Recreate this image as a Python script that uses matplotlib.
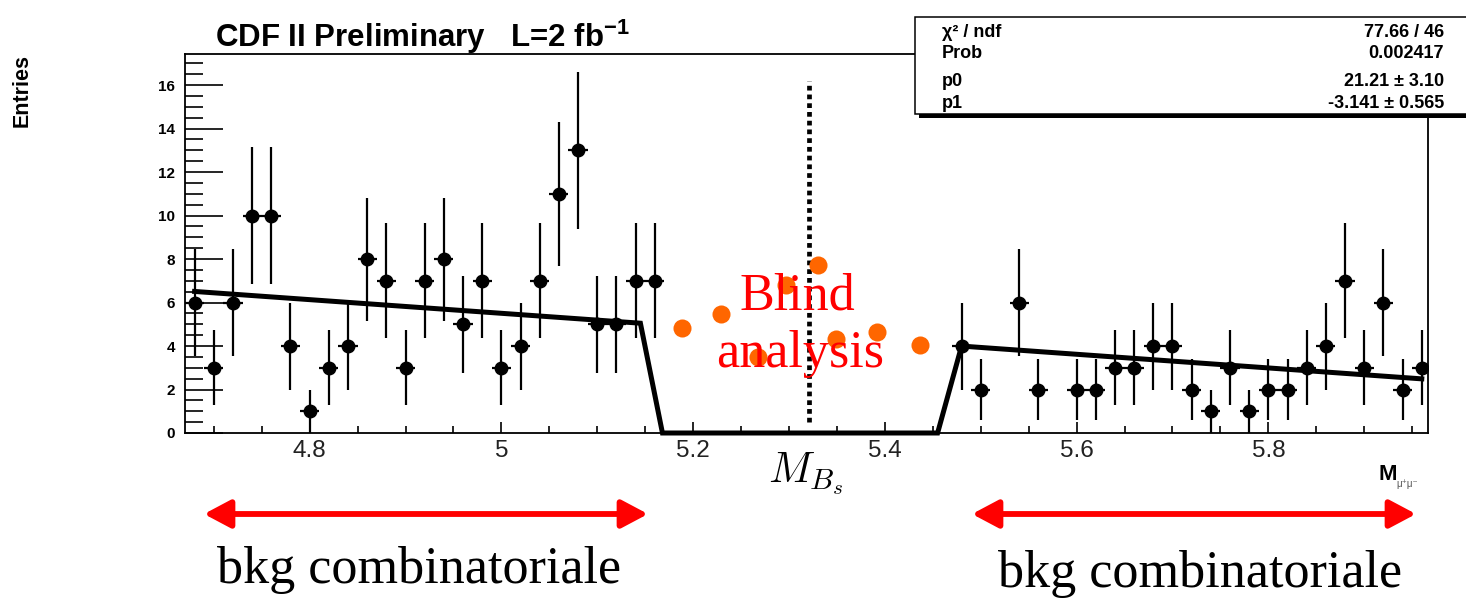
import numpy as np
import matplotlib
matplotlib.use("Agg")
import matplotlib.pyplot as plt
from matplotlib.patches import Rectangle, FancyArrowPatch, ArrowStyle
from matplotlib.ticker import MultipleLocator, FixedLocator, FixedFormatter

# ---------------- data ----------------
bin_width = 0.02
counts_left = [6, 3, 6, 10, 10, 4, 1, 3, 4, 8, 7, 3, 7, 8, 5, 7, 3, 4, 7, 11, 13, 5, 5, 7, 7]   # 4.68 .. 5.16
counts_right = [4, 2, 0, 6, 2, 0, 2, 2, 3, 3, 4, 4, 2, 1, 3, 1, 2, 2, 3, 4, 7, 3, 6, 2, 3]    # 5.48 .. 5.96
left_first_center = 4.68
right_first_center = 5.48

# fit: p0 + p1*x outside blind window
p0 = 21.21
p1 = -3.141
blind_lo, blind_hi = 5.16, 5.46
fit_nodes = [4.68, 5.145, 5.168, 5.455, 5.48, 5.96]

# hand-placed "blind" dots
blind_x = [5.188, 5.229, 5.268, 5.297, 5.330, 5.349, 5.392, 5.437]
blind_y = [4.81, 5.47, 3.48, 6.80, 7.72, 4.32, 4.63, 4.05]

signal_mass = 5.321
signal_line_range = (0.5, 16.2)

x_ticks = [4.8, 5.0, 5.2, 5.4, 5.6, 5.8]
x_ticklabels = ["4.8", "5", "5.2", "5.4", "5.6", "5.8"]
y_ticks = [0, 2, 4, 6, 8, 10, 12, 14, 16]

stats_labels = ["\u03c7\u00b2 / ndf", "Prob", "p0", "p1"]
stats_values = ["77.66 / 46", "0.002417", "21.21 \u00b1 3.10", "-3.141 \u00b1 0.565"]

# ---------------- setup ----------------
plt.rcParams["mathtext.fontset"] = "custom"
plt.rcParams["mathtext.rm"] = "Liberation Sans:bold"
plt.rcParams["mathtext.it"] = "Liberation Sans:bold"
plt.rcParams["mathtext.bf"] = "Liberation Sans:bold"

W, H = 1466, 599
def fx(x):
    return x / W
def fy(y):
    return 1 - y / H

fig = plt.figure(figsize=(W / 100, H / 100), dpi=100)
ax = fig.add_axes([fx(185), fy(433), fx(1428) - fx(185), fy(54) - fy(433)])

xs = np.concatenate([left_first_center + bin_width * np.arange(len(counts_left)),
                     right_first_center + bin_width * np.arange(len(counts_right))])
ns = np.array(counts_left + counts_right, dtype=float)
m = ns > 0
ax.errorbar(xs[m], ns[m], yerr=np.sqrt(ns[m]), xerr=bin_width / 2, fmt="o",
            color="black", ms=9, elinewidth=1.6, capsize=0, zorder=3)

nodes = np.array(fit_nodes)
fit_vals = np.where((nodes > blind_lo) & (nodes < blind_hi), 0.0, p0 + p1 * nodes)
ax.plot(nodes, fit_vals, color="black", lw=3.6, solid_joinstyle="miter",
        clip_on=False, zorder=4)

ax.vlines(signal_mass, *signal_line_range, color="black", lw=3.4,
          linestyles=[(0, (1.0, 0.85))], zorder=5)

ax.plot(blind_x, blind_y, "o", color="#FF6600", ms=13, mec="none", zorder=6)

ax.set_xlim(4.67, 5.9665)
ax.set_ylim(0, 17.43)

ax.xaxis.set_major_locator(FixedLocator(x_ticks))
ax.xaxis.set_major_formatter(FixedFormatter(x_ticklabels))
ax.xaxis.set_minor_locator(MultipleLocator(0.05))
ax.yaxis.set_major_locator(FixedLocator(y_ticks))
ax.yaxis.set_minor_locator(MultipleLocator(0.5))

ax.tick_params(axis="x", which="major", direction="in", length=8, width=1.2,
               labelsize=17.5, pad=5, labelcolor="#222222")
ax.tick_params(axis="x", which="minor", direction="in", length=5, width=1.2)
ax.tick_params(axis="y", which="major", direction="in", length=27, width=1.2,
               labelsize=11, pad=7)
ax.tick_params(axis="y", which="minor", direction="in", length=13, width=1.2)
ax.tick_params(top=False, right=False, which="both")
for lab in ax.get_yticklabels():
    lab.set_fontweight("bold")
    lab.set_family("Liberation Sans")
for lab in ax.get_xticklabels():
    lab.set_family("Liberation Sans")
for sp in ax.spines.values():
    sp.set_linewidth(1.3)

# ---------------- texts ----------------
fig.text(fx(215), fy(47), r"CDF II Preliminary   L=2 fb$^{-1}$", fontsize=22.5,
         fontweight="bold", family="Liberation Sans", va="baseline")
fig.text(fx(22), fy(90), "Entries", rotation=90, fontsize=15.5, fontweight="bold",
         family="Liberation Sans", ha="center", va="center")

fig.text(fx(797), fy(309), "Blind", color="#FF0000", fontsize=37.5,
         family="Liberation Serif", ha="center", va="baseline", zorder=2)
fig.text(fx(800), fy(367), "analysis", color="#FF0000", fontsize=37.5,
         family="Liberation Serif", ha="center", va="baseline", zorder=2)

fig.text(fx(806), fy(483), r"$M_{B_s}$", fontsize=31, math_fontfamily="cm",
         ha="center", va="baseline")

fig.text(fx(1378), fy(480), "M", fontsize=16, fontweight="bold",
         family="Liberation Sans", va="baseline")
fig.text(fx(1396), fy(487), "\u03bc\u207a\u03bc\u207b", fontsize=7, color="#555555",
         family=["Liberation Sans", "DejaVu Sans"], va="baseline")

fig.text(fx(419), fy(583), "bkg combinatoriale", fontsize=37.5,
         family="Liberation Serif", ha="center", va="baseline")
fig.text(fx(1200), fy(587), "bkg combinatoriale", fontsize=37.5,
         family="Liberation Serif", ha="center", va="baseline")

# arrows
style = ArrowStyle("<|-|>", head_length=16, head_width=8.5)
for x0, x1 in [(204, 648), (972, 1416)]:
    arr = FancyArrowPatch((fx(x0), fy(514)), (fx(x1), fy(514)),
                          transform=fig.transFigure, arrowstyle=style,
                          mutation_scale=1, lw=4.2, color="#FF0000",
                          shrinkA=0, shrinkB=0)
    fig.add_artist(arr)

# stats box
shadow = Rectangle((fx(919), fy(118)), fx(1500) - fx(919), fy(21) - fy(118),
                   transform=fig.transFigure, facecolor="black", edgecolor="none",
                   zorder=10)
box = Rectangle((fx(915), fy(114)), fx(1500) - fx(915), fy(17) - fy(114),
                transform=fig.transFigure, facecolor="white", edgecolor="black",
                lw=1.1, zorder=11)
fig.add_artist(shadow)
fig.add_artist(box)
for lab, val, yb in zip(stats_labels, stats_values, [37, 58, 86, 108]):
    fig.text(fx(942), fy(yb), lab, fontsize=13, fontweight="bold",
             family="Liberation Sans", va="baseline", zorder=12)
    fig.text(fx(1444), fy(yb), val, fontsize=13, fontweight="bold",
             family="Liberation Sans", va="baseline", ha="right", zorder=12)

fig.savefig("out.png", dpi=100)
